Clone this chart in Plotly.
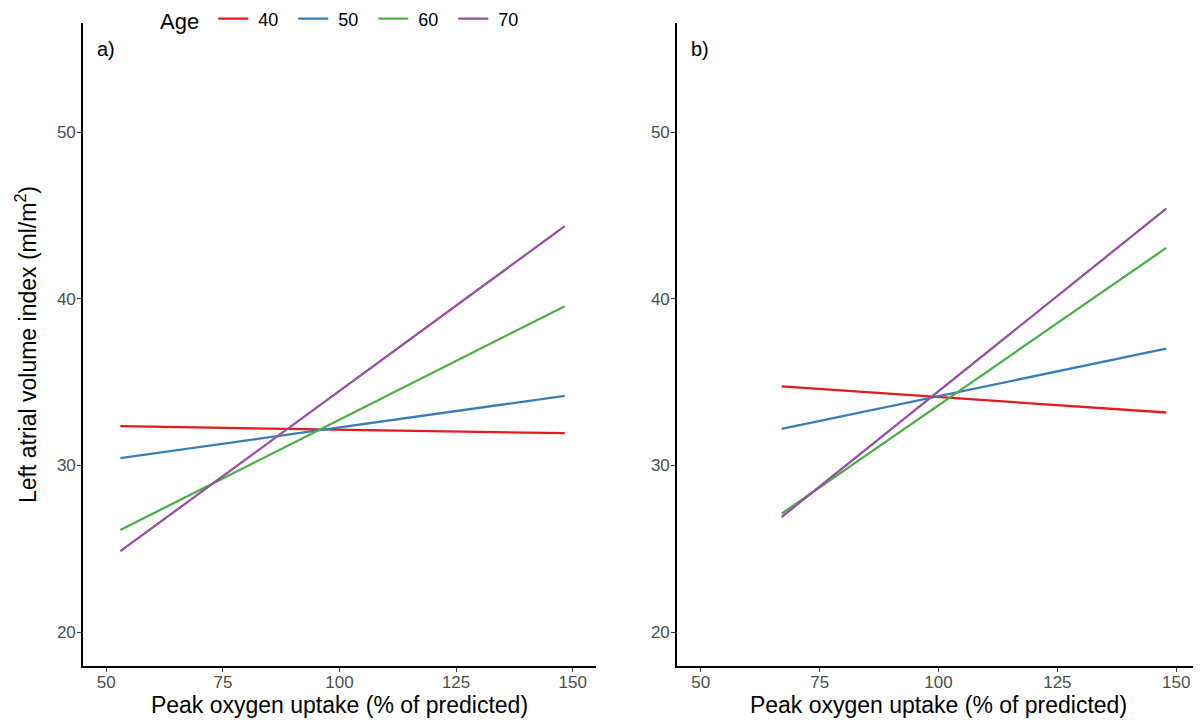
import plotly.graph_objects as go

ages = ["40", "50", "60", "70"]
colors = ["#E41A1C", "#377EB8", "#4DAF4A", "#984EA3"]

# Panel a) fitted lines: x endpoints and y at those endpoints
xa = [53.0, 148.3]
ya = {
    "40": [32.35, 31.93],
    "50": [30.43, 34.17],
    "60": [26.12, 39.55],
    "70": [24.85, 44.35],
}
# Panel b)
xb = [67.0, 147.9]
yb = {
    "40": [34.74, 33.17],
    "50": [32.19, 37.0],
    "60": [27.1, 43.05],
    "70": [26.9, 45.4],
}

x_ticks = [50, 75, 100, 125, 150]
y_ticks = [20, 30, 40, 50]

# the page body adds an 8 px margin, so the figure is laid out in page px minus 8
OFF = 8
W, H = 1201 - OFF, 722 - OFF
font_family = "Liberation Sans, Arial, sans-serif"

fig = go.Figure()
for age, col in zip(ages, colors):
    fig.add_trace(go.Scatter(x=xa, y=ya[age], mode="lines", name=" " + age,
                             line=dict(color=col, width=2.3),
                             legendgroup=age, showlegend=True,
                             xaxis="x", yaxis="y"))
    fig.add_trace(go.Scatter(x=xb, y=yb[age], mode="lines", name=" " + age,
                             line=dict(color=col, width=2.3),
                             legendgroup=age, showlegend=False,
                             xaxis="x2", yaxis="y2"))

def xpx(p):
    return (p - OFF) / W

def ypx(p):
    return 1 - (p - OFF) / H

axis_common = dict(
    showline=True, linecolor="black", linewidth=1.6,
    ticks="outside", ticklen=4, tickwidth=1.2, tickcolor="#333333",
    tickfont=dict(size=17, color="#4D4D4D", family=font_family),
    showgrid=False, zeroline=False, mirror=False,
)
xaxis_extra = dict(ticklabelstandoff=-4)
yaxis_extra = dict(ticklabelstandoff=-2)

xrange = [45, 155]
yrange = [17.96, 56.54]
xtitle = "Peak oxygen uptake (% of predicted)"

fig.update_layout(
    width=W, height=H,
    margin=dict(l=0, r=0, t=0, b=0, autoexpand=False),
    paper_bgcolor="white", plot_bgcolor="white",
    font=dict(family=font_family, color="black"),
    xaxis=dict(domain=[xpx(83), xpx(596)], range=xrange, tickvals=x_ticks,
               anchor="y",
               title=dict(text=xtitle, font=dict(size=23, color="black"), standoff=6),
               **axis_common, **xaxis_extra),
    yaxis=dict(domain=[ypx(666), ypx(23)], range=yrange, tickvals=y_ticks,
               anchor="x",
               title=dict(text="Left atrial volume index (ml/m<sup>2</sup>)",
                          font=dict(size=23, color="black"), standoff=14),
               **axis_common, **yaxis_extra),
    xaxis2=dict(domain=[xpx(677), xpx(1200)], range=xrange, tickvals=x_ticks,
                anchor="y2",
                title=dict(text=xtitle, font=dict(size=23, color="black"), standoff=6),
                **axis_common, **xaxis_extra),
    yaxis2=dict(domain=[ypx(666), ypx(23)], range=yrange, tickvals=y_ticks,
                anchor="x2", **axis_common, **yaxis_extra),
    legend=dict(
        orientation="h",
        x=xpx(158), xanchor="left",
        y=ypx(20), yanchor="middle",
        title=dict(text="Age ", font=dict(size=22, color="black"), side="left"),
        font=dict(size=18, color="black"),
        bgcolor="rgba(0,0,0,0)",
        entrywidth=35, entrywidthmode="pixels",
        itemwidth=30,
    ),
    annotations=[
        dict(text="a)", x=xpx(95), y=ypx(49), xref="paper", yref="paper",
             xanchor="left", yanchor="middle", showarrow=False,
             font=dict(size=20, color="black")),
        dict(text="b)", x=xpx(689), y=ypx(49), xref="paper", yref="paper",
             xanchor="left", yanchor="middle", showarrow=False,
             font=dict(size=20, color="black")),
    ],
)

fig.write_html("out.html")
